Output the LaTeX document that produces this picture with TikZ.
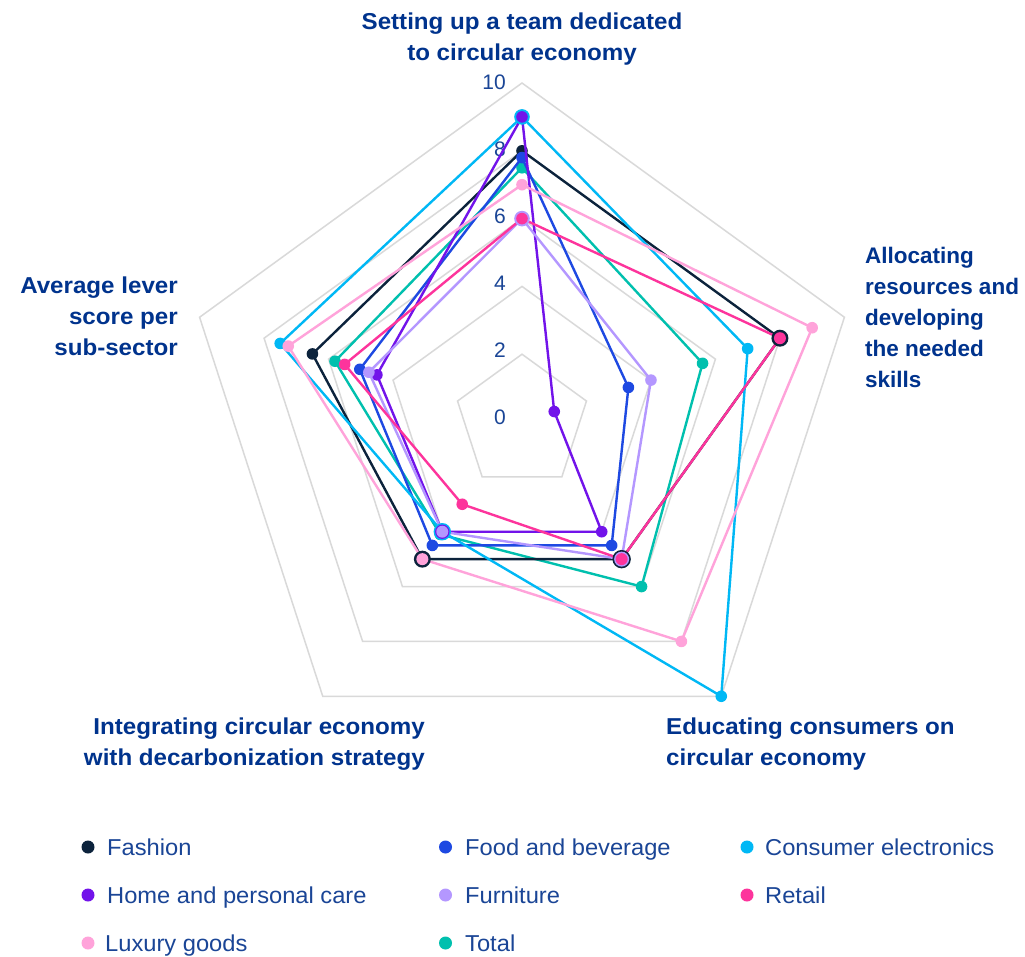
\documentclass[tikz,border=0pt]{standalone}
\usepackage{fontspec}
\setmainfont{Liberation Sans}
\newfontfamily\labfont{Liberation Sans}[FakeStretch=1.05]
\newfontfamily\labfontn{Liberation Sans}[FakeStretch=1.0]
\newfontfamily\legfont{Liberation Sans}[FakeStretch=1.03]
\definecolor{kblue}{HTML}{00338D}
\definecolor{tblue}{HTML}{1A4596}
\definecolor{gridgray}{HTML}{D9D9D9}
\definecolor{cfa}{HTML}{0C233C}
\definecolor{cfb}{HTML}{1E49E2}
\definecolor{cce}{HTML}{00B8F5}
\definecolor{chp}{HTML}{7213EA}
\definecolor{cfu}{HTML}{B497FF}
\definecolor{cre}{HTML}{FD349C}
\definecolor{clu}{HTML}{FFA3DA}
\definecolor{cto}{HTML}{00C0AE}
\def\unitr{33.9}
\newcommand\radar[7]{%
  \coordinate (#1-1) at (90:#3*\unitr);
  \coordinate (#1-2) at (18:#4*\unitr);
  \coordinate (#1-3) at (-54:#5*\unitr);
  \coordinate (#1-4) at (-126:#6*\unitr);
  \coordinate (#1-5) at (162:#7*\unitr);
  \draw[dline,#2] (#1-1) -- (#1-2) -- (#1-3) -- (#1-4) -- (#1-5) -- cycle;
  \foreach \k in {1,...,5}{\fill[#2] (#1-\k) circle (5.8);}
}
\begin{document}
\begin{tikzpicture}[x=1pt,y=-1pt,
  grid/.style={draw=gridgray, line width=1.5pt},
  dline/.style={line width=2.4pt, line join=round},
  axlab/.style={font=\labfont\bfseries\fontsize{23}{31}\selectfont, text=kblue, inner sep=0pt},
  tick/.style={font=\fontsize{21}{21}\selectfont, text=tblue, inner sep=0pt, anchor=base east},
  legtext/.style={font=\legfont\fontsize{23}{23}\selectfont, text=tblue, inner sep=0pt, anchor=base west},
  legdot/.style={circle, inner sep=0pt, minimum size=13pt},
]
\useasboundingbox (0,0) rectangle (1025,956);
\fill[white] (0,0) rectangle (1025,956);

\begin{scope}[shift={(522,422)}, y=1pt]
  \foreach \l in {2,4,...,10}{
    \draw[grid] (90:\l*\unitr) -- (18:\l*\unitr) -- (-54:\l*\unitr) -- (-126:\l*\unitr) -- (162:\l*\unitr) -- cycle;
  }
\end{scope}

% tick labels
\foreach \v in {0,2,...,10}{
  \node[tick] (t\v) at (506, 424.5-33.5*\v) {\v};
}

\begin{scope}[shift={(522,422)}, y=1pt]
  \radar{to}{cto}{7.5}{5.6}{6}{4.1}{5.8}
  \radar{fa}{cfa}{8}{8}{5}{5}{6.5}
  \radar{fb}{cfb}{7.8}{3.3}{4.5}{4.5}{5.03}
  \radar{ce}{cce}{9}{7}{10}{4}{7.5}
  \radar{hp}{chp}{9}{1}{4}{4}{4.5}
  \radar{fu}{cfu}{6}{4}{5}{4}{4.75}
  \radar{re}{cre}{6}{8}{5}{3}{5.5}
  \radar{lu}{clu}{7}{9}{8}{5}{7.25}
  % overlapping markers
  \fill[cce] (ce-1) circle (7.8); \fill[chp] (hp-1) circle (5.8);
  \fill[cfu] (fu-1) circle (7.8); \fill[cre] (re-1) circle (5.8);
  \fill[cfa] (fa-2) circle (8.5); \fill[cre] (re-2) circle (6);
  \fill[cfa] (fa-3) circle (9.2); \fill[cfu] (fu-3) circle (7.5); \fill[cre] (re-3) circle (6);
  \fill[cfa] (fa-4) circle (8.5); \fill[clu] (lu-4) circle (6);
  \fill[cce] (ce-4) circle (8.7); \fill[chp] (hp-4) circle (7.2); \fill[cfu] (fu-4) circle (6);
\end{scope}

% axis labels
\node[axlab, align=center] (ax1) at (522, 39) {Setting up a team dedicated\\to circular economy};
\node[axlab, align=left, anchor=west, font=\labfontn\bfseries\fontsize{22.5}{31}\selectfont] (ax2) at (865, 317) {Allocating\\resources and\\developing\\the needed\\skills};
\node[axlab, align=left, anchor=west] (ax3) at (666, 744) {Educating consumers on\\circular economy};
\node[axlab, align=right, anchor=east] (ax4) at (425, 744) {Integrating circular economy\\with decarbonization strategy};
\node[axlab, align=right, anchor=east] (ax5) at (178, 316.5) {Average lever\\score per\\sub-sector};

% legend
\node[legdot, fill=cfa] (d1) at (88,847) {};
\node[legtext] (l1) at (107,855) {Fashion};
\node[legdot, fill=cfb] (d2) at (445.5,847) {};
\node[legtext] (l2) at (465,855) {Food and beverage};
\node[legdot, fill=cce] (d3) at (747,847) {};
\node[legtext] (l3) at (765,855) {Consumer electronics};
\node[legdot, fill=chp] (d4) at (88,895) {};
\node[legtext] (l4) at (107,903) {Home and personal care};
\node[legdot, fill=cfu] (d5) at (445.5,895) {};
\node[legtext] (l5) at (465,903) {Furniture};
\node[legdot, fill=cre] (d6) at (747,895) {};
\node[legtext] (l6) at (765,903) {Retail};
\node[legdot, fill=clu] (d7) at (88,943) {};
\node[legtext] (l7) at (105,951) {Luxury goods};
\node[legdot, fill=cto] (d8) at (445.5,943) {};
\node[legtext] (l8) at (465,951) {Total};
\end{tikzpicture}
\end{document}
